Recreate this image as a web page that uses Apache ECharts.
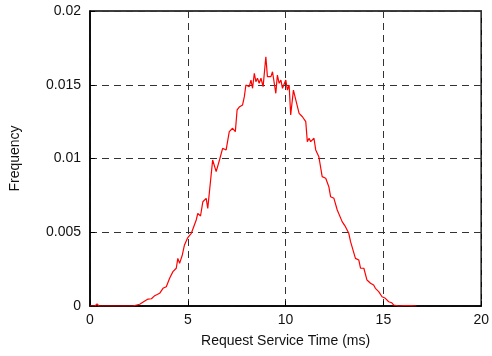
<!DOCTYPE html>
<html>
<head>
<meta charset="utf-8">
<script src="https://cdn.jsdelivr.net/npm/echarts@6/dist/echarts.min.js"></script>
<style>html,body{margin:0;padding:0;background:#fff}#c{width:492px;height:356px}</style>
</head>
<body>
<div id="c"></div>
<script>
// Request service time (ms)
var timesMs = [0,0.25,0.36,0.46,2.19,2.29,2.54,2.80,2.97,3.14,3.31,3.56,3.73,3.90,4.07,4.24,4.41,4.49,4.58,4.72,4.83,5.00,5.18,5.26,5.43,5.51,5.65,5.77,5.94,6.02,6.27,6.45,6.62,6.78,6.96,7.12,7.29,7.43,7.52,7.63,7.80,7.89,7.97,8.06,8.14,8.23,8.31,8.40,8.48,8.56,8.65,8.74,8.85,8.99,9.07,9.16,9.25,9.33,9.41,9.50,9.58,9.67,9.76,9.84,9.92,10.01,10.09,10.18,10.26,10.40,10.52,10.60,10.69,10.77,10.86,10.94,11.03,11.11,11.20,11.28,11.45,11.54,11.70,11.87,12.05,12.21,12.30,12.47,12.64,12.72,12.89,13.06,13.23,13.32,13.40,13.57,13.74,13.83,14.00,14.16,14.34,14.50,14.59,14.76,14.93,15.10,15.27,15.43,15.52,15.78,16.03,16.39,16.69];
// Frequency
var frequency = [0,0,0.00014,0,0,0.00007,0.00012,0.00034,0.00047,0.00049,0.00070,0.00086,0.00120,0.00131,0.00188,0.00233,0.00256,0.00323,0.00289,0.00346,0.00414,0.00464,0.00493,0.00504,0.00583,0.00628,0.00610,0.00707,0.00730,0.00662,0.00990,0.00911,0.00990,0.01069,0.01058,0.01182,0.01205,0.01182,0.01329,0.01349,0.01363,0.01419,0.01498,0.01510,0.01487,0.01532,0.01476,0.01578,0.01521,0.01544,0.01510,0.01544,0.01487,0.01690,0.01555,0.01544,0.01555,0.01588,0.01600,0.01442,0.01566,0.01510,0.01532,0.01476,0.01487,0.01532,0.01464,0.01498,0.01295,0.01464,0.01397,0.01385,0.01306,0.01317,0.01283,0.01295,0.01250,0.01114,0.01137,0.01114,0.01137,0.01058,0.01012,0.00877,0.00866,0.00809,0.00741,0.00730,0.00651,0.00639,0.00572,0.00538,0.00493,0.00436,0.00425,0.00323,0.00312,0.00256,0.00256,0.00176,0.00154,0.00142,0.00120,0.00097,0.00063,0.00052,0.00029,0.00022,0.00007,0,0.00003,0.00003,0];
var xTicks = [0,5,10,15,20];
var yTicks = [0,0.005,0.01,0.015,0.02];

var pts = timesMs.map(function(t,i){return [t, frequency[i]];});
var font = 'Liberation Sans, Arial, Helvetica, sans-serif';
var chart = echarts.init(document.getElementById('c'));
chart.setOption({
  animation:false,
  grid:{left:90,right:9,top:11,bottom:50,show:true,borderColor:'#000',borderWidth:1.5},
  xAxis:{type:'value',min:xTicks[0],max:xTicks[xTicks.length-1],interval:5,
    name:'Request Service Time (ms)',nameLocation:'middle',nameGap:28,
    nameTextStyle:{fontFamily:font,fontSize:14,color:'#111'},
    axisLine:{lineStyle:{color:'#000',width:1.5}},
    axisTick:{inside:true,length:5,lineStyle:{color:'#000'}},
    axisLabel:{fontFamily:font,fontSize:14,color:'#111',margin:7,
      formatter:function(v){return String(v);}},
    splitLine:{show:true,lineStyle:{color:'#333',width:1,type:[7,5]}}},
  yAxis:{type:'value',min:yTicks[0],max:yTicks[yTicks.length-1],interval:0.005,
    name:'Frequency',nameLocation:'middle',nameGap:68,nameRotate:90,
    nameTextStyle:{fontFamily:font,fontSize:14,color:'#111'},
    axisLine:{show:true,lineStyle:{color:'#000',width:1.5}},
    axisTick:{show:true,inside:true,length:5,lineStyle:{color:'#000'}},
    axisLabel:{fontFamily:font,fontSize:14,color:'#111',margin:9,
      formatter:function(v){return String(+v.toFixed(3));}},
    splitLine:{show:true,lineStyle:{color:'#333',width:1,type:[7,5]}}},
  series:[{type:'line',data:pts,showSymbol:false,symbol:'none',
    lineStyle:{color:'#ff0000',width:1.2},itemStyle:{color:'#ff0000'},z:5}]
});
</script>
</body>
</html>
